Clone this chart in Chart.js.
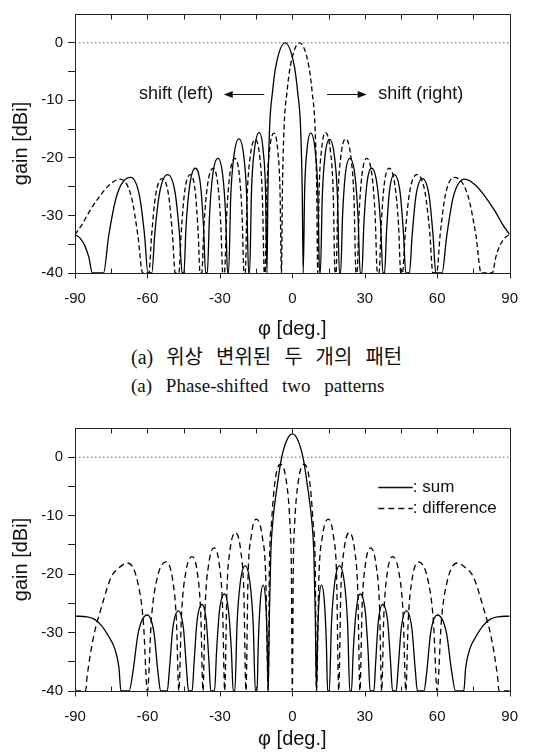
<!DOCTYPE html>
<html>
<head>
<meta charset="utf-8">
<script src="https://cdn.jsdelivr.net/npm/chart.js@4.4.1/dist/chart.umd.min.js"></script>
<style>
  html, body { margin: 0; padding: 0; background: #fff; }
  #page { position: relative; width: 535px; height: 755px; overflow: hidden; background: #fff; }
  canvas { position: absolute; left: 0; }
  #topChart { top: 0; }
  #bottomChart { top: 400px; }
  .caption { position: absolute; left: 131px; color: #111; white-space: nowrap; }
  #captionKo { top: 345px; font: 20px/24px "Liberation Serif", "Noto Sans CJK KR", serif; word-spacing: 8px; }
  #captionEn { top: 374px; font: 19px/24px "Liberation Serif", serif; word-spacing: 9px; }
</style>
</head>
<body>
<div id="page">
  <canvas id="topChart" width="535" height="345"></canvas>
  <div class="caption" id="captionKo">(a) 위상 변위된 두 개의 패턴</div>
  <div class="caption" id="captionEn">(a) Phase-shifted two patterns</div>
  <canvas id="bottomChart" width="535" height="355"></canvas>
</div>
<script>
// Axis ticks
const angleTicks = [-90, -75, -60, -45, -30, -15, 0, 15, 30, 45, 60, 75, 90];
const gainTicks = [-40, -35, -30, -25, -20, -15, -10, -5, 0, 5];
const zeroLine = [[-90, 0], [90, 0]];

// (a) beam shifted to the left (solid), [angle deg, gain dBi]
const shiftLeftGain = [
  [-90, -33.3], [-88, -33.9], [-86, -35.2], [-84.3, -37.2], [-82.8, -40], [-78.2, -40],
  [-76.0, -33.4], [-72.6, -26.4], [-67.0, -23.4], [-63.4, -26.4], [-61.2, -33.4], [-59.8, -40],
  [-58.2, -40], [-56.9, -32.9], [-54.9, -25.9], [-51.6, -22.9], [-48.6, -25.9], [-46.8, -32.9], [-45.6, -40],
  [-44.9, -40], [-44.0, -31.8], [-42.5, -24.8], [-40.2, -21.8], [-38.0, -24.8], [-36.8, -31.8], [-35.9, -40],
  [-35.2, -40], [-34.3, -30.1], [-33.0, -23.1], [-30.8, -20.1], [-28.8, -23.1], [-27.6, -30.1], [-26.8, -40],
  [-26.4, -40], [-25.5, -26.7], [-24.2, -19.7], [-22.1, -16.7], [-20.1, -19.7], [-18.9, -26.7], [-18.1, -40],
  [-17.7, -40], [-16.9, -25.6], [-15.7, -18.6], [-13.7, -15.6], [-12.1, -18.6], [-11.1, -25.6], [-10.5, -40],
  [-10.1, -25.6], [-9.4, -14.6], [-8.25, -8.7], [-6.75, -3.9], [-3.0, 0], [0.75, -3.9], [2.25, -8.7], [3.4, -14.6], [4.1, -25.6], [4.5, -40],
  [5.1, -25.7], [6.05, -18.7], [7.6, -15.7], [9.45, -18.7], [10.55, -25.7], [11.3, -40],
  [11.6, -40], [12.4, -26.8], [13.5, -19.8], [15.4, -16.8], [17.45, -19.8], [18.7, -26.8], [19.5, -40],
  [20.0, -40], [20.8, -30.1], [21.9, -23.1], [23.8, -20.1], [25.95, -23.1], [27.2, -30.1], [28.1, -40],
  [28.8, -40], [29.6, -31.8], [30.8, -24.8], [32.8, -21.8], [35.15, -24.8], [36.6, -31.8], [37.5, -40],
  [38.2, -40], [39.0, -32.9], [40.2, -25.9], [42.2, -22.9], [44.6, -25.9], [46.0, -32.9], [47.0, -40],
  [48.5, -40], [49.6, -33.6], [51.2, -26.6], [53.9, -23.6], [56.65, -26.6], [58.3, -33.6], [59.4, -40],
  [62.0, -40], [63.9, -33.7], [66.7, -26.7], [71.4, -23.7], [76, -24.8], [80, -26.8], [84, -29.3], [87, -31.5], [90, -33.3]
];

// (a) beam shifted to the right (dashed)
const shiftRightGain = [
  [-90, -33.3], [-87, -31.5], [-84, -29.3], [-80, -26.8], [-76, -24.8], [-71.4, -23.7], [-66.7, -26.7], [-63.9, -33.7], [-62.0, -40],
  [-59.4, -40], [-58.3, -33.6], [-56.65, -26.6], [-53.9, -23.6], [-51.2, -26.6], [-49.6, -33.6], [-48.5, -40],
  [-47.0, -40], [-46.0, -32.9], [-44.6, -25.9], [-42.2, -22.9], [-40.2, -25.9], [-39.0, -32.9], [-38.2, -40],
  [-37.5, -40], [-36.6, -31.8], [-35.15, -24.8], [-32.8, -21.8], [-30.8, -24.8], [-29.6, -31.8], [-28.8, -40],
  [-28.1, -40], [-27.2, -30.1], [-25.95, -23.1], [-23.8, -20.1], [-21.9, -23.1], [-20.8, -30.1], [-20.0, -40],
  [-19.5, -40], [-18.7, -26.8], [-17.45, -19.8], [-15.4, -16.8], [-13.5, -19.8], [-12.4, -26.8], [-11.6, -40],
  [-11.3, -40], [-10.55, -25.7], [-9.45, -18.7], [-7.6, -15.7], [-6.05, -18.7], [-5.1, -25.7], [-4.5, -40],
  [-4.1, -25.6], [-3.4, -14.6], [-2.25, -8.7], [-0.75, -3.9], [3.0, 0], [6.75, -3.9], [8.25, -8.7], [9.4, -14.6], [10.1, -25.6], [10.5, -40],
  [11.1, -25.6], [12.1, -18.6], [13.7, -15.6], [15.7, -18.6], [16.9, -25.6], [17.7, -40],
  [18.1, -40], [18.9, -26.7], [20.1, -19.7], [22.1, -16.7], [24.2, -19.7], [25.5, -26.7], [26.4, -40],
  [26.8, -40], [27.6, -30.1], [28.8, -23.1], [30.8, -20.1], [33.0, -23.1], [34.3, -30.1], [35.2, -40],
  [35.9, -40], [36.8, -31.8], [38.0, -24.8], [40.2, -21.8], [42.5, -24.8], [44.0, -31.8], [44.9, -40],
  [45.6, -40], [46.8, -32.9], [48.6, -25.9], [51.6, -22.9], [54.9, -25.9], [56.9, -32.9], [58.2, -40],
  [59.8, -40], [61.2, -33.4], [63.4, -26.4], [67.0, -23.4], [72.6, -26.4], [76.0, -33.4], [78.2, -40],
  [82.8, -40], [84.3, -37.2], [86, -35.2], [88, -33.9], [90, -33.3]
];

// (b) sum pattern (solid)
const sumGain = [
  [-90, -27.2], [-85, -27.3], [-82, -27.7], [-79, -28.8], [-76.3, -30.5], [-73.5, -32.8], [-71.8, -36], [-71.0, -40],
  [-67.6, -40], [-66.1, -37], [-63.8, -30], [-60.1, -27.0], [-57.3, -30], [-55.6, -37], [-54.5, -40],
  [-51.8, -40], [-50.9, -36.3], [-49.5, -29.3], [-47.2, -26.3], [-45.1, -29.3], [-43.8, -36.3], [-43.0, -40],
  [-41.5, -40], [-40.7, -35.2], [-39.5, -28.2], [-37.4, -25.2], [-35.6, -28.2], [-34.5, -35.2], [-33.8, -40],
  [-32.2, -40], [-31.4, -33.4], [-30.2, -26.4], [-28.1, -23.4], [-26.4, -26.4], [-25.2, -33.4], [-24.5, -40],
  [-23.8, -40], [-22.9, -28.6], [-21.6, -21.6], [-19.5, -18.6], [-17.5, -21.6], [-16.2, -28.6], [-15.3, -40],
  [-14.6, -40], [-14.1, -31.9], [-13.3, -24.9], [-12.1, -21.9], [-11.0, -24.9], [-10.4, -31.9], [-10.0, -40],
  [-9.5, -27], [-8.9, -16.4], [-8.0, -10.7], [-6.3, -5], [-4.4, 0], [-2.2, 3.0], [0, 4.0],
  [2.2, 3.0], [4.4, 0], [6.3, -5], [8.0, -10.7], [8.9, -16.4], [9.5, -27], [10.0, -40],
  [10.4, -31.9], [11.0, -24.9], [12.1, -21.9], [13.3, -24.9], [14.1, -31.9], [14.6, -40],
  [15.3, -40], [16.2, -28.6], [17.5, -21.6], [19.5, -18.6], [21.6, -21.6], [22.9, -28.6], [23.8, -40],
  [24.5, -40], [25.2, -33.4], [26.4, -26.4], [28.1, -23.4], [30.2, -26.4], [31.4, -33.4], [32.2, -40],
  [33.8, -40], [34.5, -35.2], [35.6, -28.2], [37.4, -25.2], [39.5, -28.2], [40.7, -35.2], [41.5, -40],
  [43.0, -40], [43.8, -36.3], [45.1, -29.3], [47.2, -26.3], [49.5, -29.3], [50.9, -36.3], [51.8, -40],
  [54.5, -40], [55.6, -37], [57.3, -30], [60.1, -27.0], [63.8, -30], [66.1, -37], [67.6, -40],
  [71.0, -40], [71.8, -36], [73.5, -32.8], [76.3, -30.5], [79, -28.8], [82, -27.7], [85, -27.3], [90, -27.2]
];

// (b) difference pattern (dashed)
const diffGain = [
  [-90, -40], [-85.6, -40], [-85, -37.6], [-82.3, -30.7], [-79, -25.6], [-75, -20.5], [-72, -19], [-68.3, -18.1], [-64.2, -21.1], [-61.7, -28.1], [-60.0, -40],
  [-58.4, -27.9], [-56.1, -20.9], [-52.2, -17.9], [-49.6, -20.9], [-48.0, -27.9], [-47.0, -40],
  [-45.9, -27], [-44.25, -20], [-41.5, -17], [-39.25, -20], [-37.9, -27], [-37.0, -40],
  [-36.1, -25.5], [-34.7, -18.5], [-32.4, -15.5], [-30.2, -18.5], [-28.9, -25.5], [-28.0, -40],
  [-27.1, -22.9], [-25.8, -15.9], [-23.6, -12.9], [-21.4, -15.9], [-20.1, -22.9], [-19.2, -40],
  [-18.35, -20.6], [-17.05, -13.6], [-14.9, -10.6], [-12.45, -13.6], [-11.0, -20.6], [-10.0, -40],
  [-9.5, -19], [-8.6, -11.2], [-7.2, -4.2], [-4.9, -1.2], [-2.45, -4.2], [-1.0, -11.2], [-0.4, -19], [0, -40],
  [0.4, -19], [1.0, -11.2], [2.45, -4.2], [4.9, -1.2], [7.2, -4.2], [8.6, -11.2], [9.5, -19], [10.0, -40],
  [11.0, -20.6], [12.45, -13.6], [14.9, -10.6], [17.05, -13.6], [18.35, -20.6], [19.2, -40],
  [20.1, -22.9], [21.4, -15.9], [23.6, -12.9], [25.8, -15.9], [27.1, -22.9], [28.0, -40],
  [28.9, -25.5], [30.2, -18.5], [32.4, -15.5], [34.7, -18.5], [36.1, -25.5], [37.0, -40],
  [37.9, -27], [39.25, -20], [41.5, -17], [44.25, -20], [45.9, -27], [47.0, -40],
  [48.0, -27.9], [49.6, -20.9], [52.2, -17.9], [56.1, -20.9], [58.4, -27.9], [60.0, -40],
  [61.7, -28.1], [64.2, -21.1], [68.3, -18.1], [72, -19], [75, -20.5], [79, -25.6], [82.3, -30.7], [85, -37.6], [85.6, -40], [90, -40]
];

// Annotation anchors (angle, gain)
const leftArrow = [-11.6, -28.4];
const rightArrow = [14.4, 30.8];
const arrowGain = -8.9;
const leftNoteEnd = -32.8;
const rightNoteStart = 35.6;
const legendLine = [35.6, 49.9];
const legendGains = [-5.1, -8.7];
const legendTexts = [': sum', ': difference'];

const sansFamily = '"Liberation Sans", Arial, sans-serif';
const tickFont = { family: sansFamily, size: 15 };
const titleFont = { family: sansFamily, size: 20 };

// box frame + angle ticks (minor inside, major outside at the bottom, all inside at top)
const framePlugin = {
  id: 'frame',
  afterDraw(chart) {
    const { ctx, chartArea: a, scales: { x } } = chart;
    const l = Math.round(a.left) + 0.5, t = Math.round(a.top) + 0.5;
    const r = Math.round(a.right) + 0.5, b = Math.round(a.bottom) + 0.5;
    ctx.save();
    ctx.strokeStyle = '#222';
    ctx.lineWidth = 1;
    ctx.strokeRect(l, t, r - l, b - t);
    ctx.beginPath();
    angleTicks.forEach(v => {
      const px = Math.round(x.getPixelForValue(v)) + 0.5;
      ctx.moveTo(px, t); ctx.lineTo(px, t + 5);
      ctx.moveTo(px, b);
      ctx.lineTo(px, v % 30 === 0 ? b + 5 : b - 5);
    });
    ctx.stroke();
    ctx.restore();
  }
};

function drawArrow(ctx, x0, x1, y) {
  const dir = x1 > x0 ? 1 : -1;
  ctx.beginPath();
  ctx.moveTo(x0, y); ctx.lineTo(x1 - dir * 8, y);
  ctx.stroke();
  ctx.beginPath();
  ctx.moveTo(x1, y);
  ctx.lineTo(x1 - dir * 9, y - 3.5);
  ctx.lineTo(x1 - dir * 9, y + 3.5);
  ctx.closePath();
  ctx.fill();
}

const shiftNotes = {
  id: 'shiftNotes',
  afterDatasetsDraw(chart) {
    const { ctx, scales: { x, y } } = chart;
    const py = Math.round(y.getPixelForValue(arrowGain)) + 0.5;
    ctx.save();
    ctx.strokeStyle = '#111';
    ctx.fillStyle = '#111';
    ctx.lineWidth = 1;
    drawArrow(ctx, x.getPixelForValue(leftArrow[0]), x.getPixelForValue(leftArrow[1]), py);
    drawArrow(ctx, x.getPixelForValue(rightArrow[0]), x.getPixelForValue(rightArrow[1]), py);
    ctx.font = '18px ' + sansFamily;
    ctx.textBaseline = 'middle';
    ctx.textAlign = 'right';
    ctx.fillText('shift (left)', x.getPixelForValue(leftNoteEnd), py);
    ctx.textAlign = 'left';
    ctx.fillText('shift (right)', x.getPixelForValue(rightNoteStart), py);
    ctx.restore();
  }
};

const sumDiffLegend = {
  id: 'sumDiffLegend',
  afterDatasetsDraw(chart) {
    const { ctx, scales: { x, y } } = chart;
    const x0 = x.getPixelForValue(legendLine[0]);
    const x1 = x.getPixelForValue(legendLine[1]);
    ctx.save();
    ctx.strokeStyle = '#111';
    ctx.fillStyle = '#111';
    ctx.lineWidth = 1.3;
    ctx.font = '17px ' + sansFamily;
    ctx.textBaseline = 'middle';
    legendGains.forEach((g, i) => {
      const py = Math.round(y.getPixelForValue(g)) + 0.5;
      ctx.setLineDash(i === 0 ? [] : [6, 4]);
      ctx.beginPath();
      ctx.moveTo(x0, py); ctx.lineTo(x1, py);
      ctx.stroke();
      ctx.fillText(legendTexts[i], x1, py);
    });
    ctx.restore();
  }
};

function buildOptions(area, canvasHeight) {
  return {
    responsive: false,
    animation: false,
    devicePixelRatio: 1,
    layout: { padding: { left: 0, right: 535 - area.right, top: area.top, bottom: 0 } },
    plugins: { legend: { display: false }, tooltip: { enabled: false } },
    elements: {
      point: { radius: 0 },
      line: { borderWidth: 1.3, cubicInterpolationMode: 'monotone' }
    },
    scales: {
      x: {
        type: 'linear', min: -90, max: 90,
        afterBuildTicks: s => { s.ticks = angleTicks.map(v => ({ value: v })); },
        afterFit: s => { s.height = canvasHeight - area.bottom; },
        grid: { display: false, drawTicks: false },
        border: { display: false },
        ticks: {
          callback: v => (v % 30 === 0 ? String(v) : ''),
          autoSkip: false, maxRotation: 0, padding: 17, color: '#111', font: tickFont
        },
        title: { display: true, text: 'φ [deg.]', color: '#111', font: titleFont, padding: { top: 0, bottom: area.titlePad } }
      },
      y: {
        type: 'linear', min: -40, max: 5,
        afterBuildTicks: s => { s.ticks = gainTicks.map(v => ({ value: v })); },
        afterFit: s => { s.width = area.left; },
        grid: {
          drawOnChartArea: false, drawTicks: true, tickLength: 7, tickWidth: 1,
          tickColor: c => (c.tick && c.tick.value === 5 ? 'rgba(0,0,0,0)' : '#222')
        },
        border: { display: false },
        ticks: { callback: v => (v % 10 === 0 ? String(v) : ''), padding: 5, color: '#111', font: tickFont },
        title: { display: true, text: 'gain [dBi]', color: '#111', font: titleFont, padding: { top: 9, bottom: 0 } }
      }
    }
  };
}

const refLine = { data: zeroLine, borderColor: '#666', borderWidth: 1, borderDash: [1.5, 2.5], tension: 0, cubicInterpolationMode: 'default' };

new Chart(document.getElementById('topChart'), {
  type: 'line',
  data: {
    datasets: [
      refLine,
      { data: shiftLeftGain, borderColor: '#000' },
      { data: shiftRightGain, borderColor: '#000', borderDash: [5, 3] }
    ]
  },
  options: buildOptions({ left: 75, right: 512, top: 11, bottom: 273, titlePad: 4 }, 345),
  plugins: [framePlugin, shiftNotes]
});

new Chart(document.getElementById('bottomChart'), {
  type: 'line',
  data: {
    datasets: [
      Object.assign({}, refLine),
      { data: sumGain, borderColor: '#000' },
      { data: diffGain, borderColor: '#000', borderDash: [6, 4] }
    ]
  },
  options: buildOptions({ left: 75, right: 513, top: 28, bottom: 291, titlePad: 4 }, 355),
  plugins: [framePlugin, sumDiffLegend]
});
</script>
</body>
</html>
